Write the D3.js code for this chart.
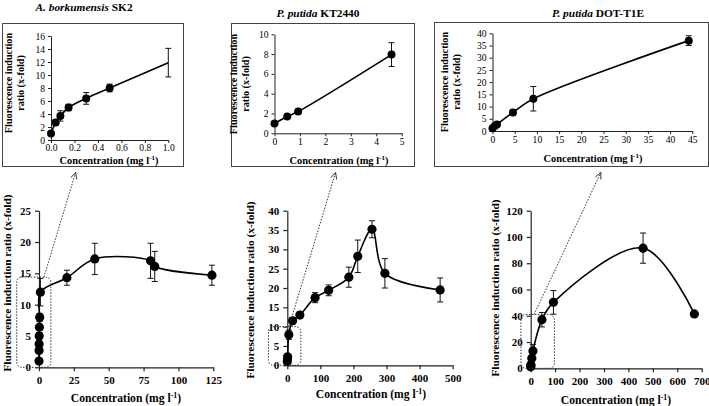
<!DOCTYPE html>
<html><head><meta charset="utf-8">
<script src="https://cdn.jsdelivr.net/npm/d3@7"></script>
<style>body{margin:0;background:#fff} svg{display:block} svg text{font-family:'Liberation Serif','Tinos','DejaVu Serif',serif;}</style>
</head><body><svg id="c" width="709" height="406"></svg>
<script>
// ---------------- DATA ----------------
const panelTitles = ["A. borkumensis|SK2", "P. putida|KT2440", "P. putida|DOT-T1E"];

// Inset 1: A. borkumensis SK2 (low concentration)
const skInsetX   = [0, 0.04, 0.08, 0.15, 0.3, 0.5, 1.0];
const skInsetY   = [1.0, 2.7, 3.7, 5.0, 6.4, 8.0, 11.9];
const skInsetErr = [0.3, 0.4, 0.8, 0.5, 0.9, 0.6, 2.2];
const skInsetDot = [1, 1, 1, 1, 1, 1, 0];
// Main 1
const skMainX   = [0, 0.04, 0.08, 0.15, 0.3, 0.5, 1.0, 20, 40, 80, 83, 124];
const skMainY   = [1.0, 2.7, 3.7, 5.0, 6.4, 8.0, 12.0, 14.3, 17.3, 17.0, 16.1, 14.7];
const skMainErr = [0.3, 0.4, 0.8, 0.5, 0.9, 0.6, 2.2, 1.2, 2.5, 2.8, 2.4, 1.6];

// Inset 2: P. putida KT2440
const ktInsetX   = [0, 0.5, 0.93, 4.6];
const ktInsetY   = [1.0, 1.7, 2.2, 7.95];
const ktInsetErr = [0.1, 0.15, 0.15, 1.2];
// Main 2
const ktMainX   = [0, 0.5, 0.93, 4.6, 16, 38, 84, 125, 186, 213, 256, 295, 462];
const ktMainY   = [1.0, 1.7, 2.2, 7.9, 11.5, 13.0, 17.5, 19.4, 22.8, 28.2, 35.2, 23.8, 19.5];
const ktMainErr = [0.1, 0.15, 0.15, 1.2, 0.8, 0.8, 1.3, 1.4, 2.6, 4.2, 2.2, 3.8, 3.1];

// Inset 3: P. putida DOT-T1E
const dtInsetX   = [0, 0.5, 1.0, 4.6, 9.2, 44.2];
const dtInsetY   = [1.1, 2.0, 2.7, 7.6, 13.2, 37.0];
const dtInsetErr = [0.3, 0.3, 0.5, 1.0, 5.0, 2.0];
// Main 3
const dtMainX   = [0, 0.5, 1.0, 4.6, 9.2, 46, 93, 460, 670];
const dtMainY   = [1.1, 2.0, 2.7, 7.6, 13.2, 37.0, 50.2, 91.5, 41.4];
const dtMainErr = [0.3, 0.3, 0.5, 1.0, 5.0, 5.5, 9.0, 11.5, 1.0];

// Tick values
const skInsetXTicks = [0, 0.2, 0.4, 0.6, 0.8, 1.0];
const skInsetYTicks = [0, 2, 4, 6, 8, 10, 12, 14, 16];
const ktInsetXTicks = [0, 1, 2, 3, 4, 5];
const ktInsetYTicks = [0, 2, 4, 6, 8, 10];
const dtInsetXTicks = [0, 5, 10, 15, 20, 25, 30, 35, 40, 45];
const dtInsetYTicks = [0, 5, 10, 15, 20, 25, 30, 35, 40];
const skMainXTicks = [0, 25, 50, 75, 100, 125];
const skMainYTicks = [0, 5, 10, 15, 20, 25];
const ktMainXTicks = [0, 100, 200, 300, 400, 500];
const ktMainYTicks = [0, 5, 10, 15, 20, 25, 30, 35, 40];
const dtMainXTicks = [0, 100, 200, 300, 400, 500, 600, 700];
const dtMainYTicks = [0, 20, 40, 60, 80, 100, 120];

// Zoom boxes (main-plot data units) and arrow targets (inset x value)
const zoomBoxX = [[-16, 8.5], [-57, 41], [-40, 97]];
const zoomBoxY = [[0, 14.4], [0, 10], [0, 41]];
const arrowStartX = [3.5, 5, 14];
const arrowEndX = [0.21, 2.4, 24.4];

// ---------------- DRAWING ----------------
const svg = d3.select('#c');
const FONT = "'Liberation Serif','Tinos','DejaVu Serif',serif";

function txt(sel) { return sel.style('font-family', FONT); }

function xTitle(g, x, y, size) {
  const t = txt(g.append('text')).attr('x', x).attr('y', y).attr('text-anchor', 'middle')
    .attr('font-weight', 'bold').attr('font-size', size).attr('fill', '#000');
  t.append('tspan').text('Concentration (mg l');
  t.append('tspan').attr('dy', -size * 0.38).attr('font-size', size * 0.68).text('-1');
  t.append('tspan').attr('dy', size * 0.38).text(')');
}

function panel(cfg) {
  const g = svg.append('g');
  const x = d3.scaleLinear().domain(cfg.xDom).range(cfg.xR);
  const y = d3.scaleLinear().domain(cfg.yDom).range(cfg.yR);
  const y0 = y(cfg.yDom[0]);
  const xa = d3.axisBottom(x).tickValues(cfg.xTicks).tickFormat(cfg.xFmt)
    .tickSizeInner(cfg.tick).tickSizeOuter(0).tickPadding(cfg.xPad);
  const ya = d3.axisLeft(y).tickValues(cfg.yTicks).tickFormat(d3.format('d'))
    .tickSizeInner(cfg.tick).tickSizeOuter(0).tickPadding(cfg.yPad);
  const gx = g.append('g').attr('transform', `translate(0,${y0})`).call(xa);
  const gy = g.append('g').attr('transform', `translate(${cfg.xR[0]},0)`).call(ya);
  [gx, gy].forEach(a => {
    a.attr('font-family', null);
    a.select('.domain').attr('stroke', '#222').attr('stroke-width', cfg.axisW);
    a.selectAll('.tick line').attr('stroke', '#222').attr('stroke-width', cfg.axisW);
    txt(a.selectAll('.tick text')).attr('font-size', cfg.tickSize)
      .attr('font-weight', cfg.bold ? 'bold' : 'normal').attr('fill', '#000');
  });
  // line
  const pts = cfg.xs.map((v, i) => [x(v), y(cfg.ys[i])]);
  g.append('path').attr('d', d3.line().curve(d3.curveCatmullRom.alpha(0.5))(pts))
    .attr('fill', 'none').attr('stroke', '#000').attr('stroke-width', 1.6);
  // error bars
  const eb = g.append('g').attr('stroke', '#111').attr('stroke-width', 1);
  cfg.xs.forEach((v, i) => {
    const e = cfg.es[i];
    if (!e) return;
    const px = x(v), pt = y(cfg.ys[i] + e), pb = y(cfg.ys[i] - e);
    eb.append('line').attr('x1', px).attr('x2', px).attr('y1', pt).attr('y2', pb);
    eb.append('line').attr('x1', px - 3).attr('x2', px + 3).attr('y1', pt).attr('y2', pt);
    eb.append('line').attr('x1', px - 3).attr('x2', px + 3).attr('y1', pb).attr('y2', pb);
  });
  // dots
  g.append('g').selectAll('circle').data(cfg.xs.map((v, i) => i).filter(i => !cfg.dots || cfg.dots[i]))
    .join('circle').attr('cx', i => x(cfg.xs[i])).attr('cy', i => y(cfg.ys[i]))
    .attr('r', cfg.r).attr('fill', '#000');
  return {x, y};
}

function yTitleMain(x, y) {
  txt(svg.append('text')).attr('transform', `translate(${x},${y}) rotate(-90)`)
    .attr('text-anchor', 'middle').attr('font-weight', 'bold')
    .attr('font-size', 11.4).text('Fluorescence induction ratio (x-fold)');
}
function yTitleInset(x1, x2, y, l2) {
  txt(svg.append('text')).attr('transform', `translate(${x1},${y}) rotate(-90)`)
    .attr('text-anchor', 'middle').attr('font-weight', 'bold')
    .attr('font-size', 10.2).text('Fluorescence induction');
  txt(svg.append('text')).attr('transform', `translate(${x2},${y}) rotate(-90)`)
    .attr('text-anchor', 'middle').attr('font-weight', 'bold')
    .attr('font-size', 10.2).text(l2);
}
function title(i, x, y) {
  const [a, b] = panelTitles[i].split('|');
  const t = txt(svg.append('text')).attr('x', x).attr('y', y).attr('text-anchor', 'middle')
    .attr('font-weight', 'bold').attr('font-size', 11.4);
  t.append('tspan').attr('font-style', 'italic').text(a);
  t.append('tspan').text(' ' + b);
}

// inset frames
const frames = [[2, 23, 181, 143], [231, 23, 183, 143], [434, 22, 274, 144]];
frames.forEach(f => svg.append('rect').attr('x', f[0] + 0.5).attr('y', f[1] + 0.5)
  .attr('width', f[2]).attr('height', f[3]).attr('fill', 'none')
  .attr('stroke', '#444').attr('stroke-width', 1));

const insetCommon = {tick: 3, xPad: 2, yPad: 3, axisW: 1, tickSize: 9.6, bold: false, r: 4};
const mainCommon = {tick: 4, xPad: 5, yPad: 4, axisW: 1.2, tickSize: 11, bold: true, r: 4.6};

const i1 = panel(Object.assign({}, insetCommon, {xPad: 1, xDom: [0, 1], xR: [51, 168.3], yDom: [0, 16], yR: [140, 36],
  xTicks: skInsetXTicks, yTicks: skInsetYTicks, xFmt: d3.format('.1f'),
  xs: skInsetX, ys: skInsetY, es: skInsetErr, dots: skInsetDot}));
const i2 = panel(Object.assign({}, insetCommon, {xDom: [0, 5], xR: [274.5, 401.7], yDom: [0, 10], yR: [133.3, 34.3],
  xTicks: ktInsetXTicks, yTicks: ktInsetYTicks, xFmt: d3.format('d'),
  xs: ktInsetX, ys: ktInsetY, es: ktInsetErr}));
const i3 = panel(Object.assign({}, insetCommon, {xDom: [0, 45], xR: [492.5, 692.3], yDom: [0, 40], yR: [131, 33.3],
  xTicks: dtInsetXTicks, yTicks: dtInsetYTicks, xFmt: d3.format('d'),
  xs: dtInsetX, ys: dtInsetY, es: dtInsetErr}));

const m1 = panel(Object.assign({}, mainCommon, {xDom: [0, 125], xR: [39, 213.3], yDom: [0, 25], yR: [367.3, 210.7],
  xTicks: skMainXTicks, yTicks: skMainYTicks, xFmt: d3.format('d'),
  xs: skMainX, ys: skMainY, es: skMainErr}));
const m2 = panel(Object.assign({}, mainCommon, {xDom: [0, 500], xR: [287.3, 452.7], yDom: [0, 40], yR: [365.3, 210.7],
  xTicks: ktMainXTicks, yTicks: ktMainYTicks, xFmt: d3.format('d'),
  xs: ktMainX, ys: ktMainY, es: ktMainErr}));
const m3 = panel(Object.assign({}, mainCommon, {xDom: [0, 700], xR: [530.7, 701.7], yDom: [0, 120], yR: [368.3, 210.7],
  xTicks: dtMainXTicks, yTicks: dtMainYTicks, xFmt: d3.format('d'),
  xs: dtMainX, ys: dtMainY, es: dtMainErr}));

// titles
title(0, 84, 11);
title(1, 318, 17);
title(2, 598, 17);
yTitleInset(12, 24, 83, 'ratio  (x-fold)');
yTitleInset(237, 249, 84, 'ratio (x-fold)');
yTitleInset(448, 460, 82, 'ratio (x-fold)');
xTitle(svg, 109, 163.5, 10.4);
xTitle(svg, 339, 163.5, 10.4);
xTitle(svg, 593, 162, 10.4);
yTitleMain(10.5, 283);
yTitleMain(254, 290);
yTitleMain(499, 288);
xTitle(svg, 126, 402, 11.6);
xTitle(svg, 371, 398, 11.6);
xTitle(svg, 616, 404, 11.6);

// zoom boxes & arrows
const mains = [m1, m2, m3], insets = [i1, i2, i3];
mains.forEach((m, k) => {
  const bx = zoomBoxX[k].map(m.x), by = zoomBoxY[k].map(m.y);
  svg.append('rect').attr('x', bx[0]).attr('y', by[1]).attr('width', bx[1] - bx[0])
    .attr('height', by[0] - by[1]).attr('rx', 5).attr('fill', 'none')
    .attr('stroke', '#333').attr('stroke-width', 1).attr('stroke-dasharray', '1.5,1.5');
  const sx = m.x(arrowStartX[k]), sy = by[1];
  const ex = insets[k].x(arrowEndX[k]), ey = 172.5;
  svg.append('line').attr('x1', sx).attr('y1', sy).attr('x2', ex).attr('y2', ey)
    .attr('stroke', '#333').attr('stroke-width', 1).attr('stroke-dasharray', '1.5,1.5');
  const ang = Math.atan2(ey - sy, ex - sx), L = 7, w = 0.45;
  const p1 = [ex - L * Math.cos(ang - w), ey - L * Math.sin(ang - w)];
  const p2 = [ex - L * Math.cos(ang + w), ey - L * Math.sin(ang + w)];
  svg.append('path').attr('d', `M${p1}L${ex},${ey}L${p2}`).attr('fill', 'none')
    .attr('stroke', '#333').attr('stroke-width', 1);
});
</script></body></html>
